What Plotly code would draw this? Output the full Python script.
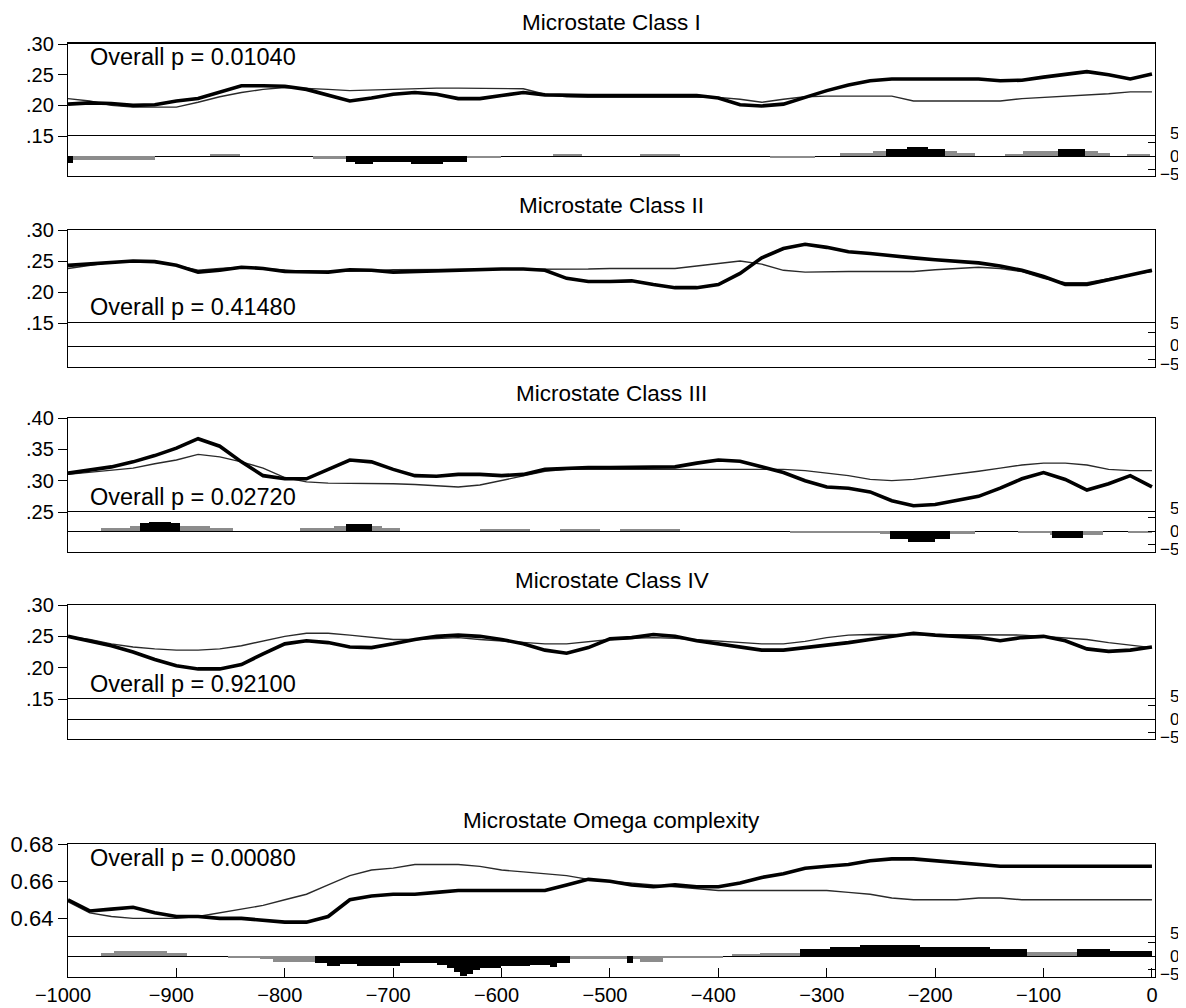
import plotly.graph_objects as go

# page is 1186x1008; the html body has an 8px margin, so the figure is 8px smaller
# and all geometry below is given in page pixels, shifted by OFF.
OFF = 8
W, H = 1186 - OFF, 1008 - OFF
FONT = "Liberation Sans, Arial, sans-serif"

# ---------------- data ----------------
t = list(range(-1000, 1, 20))

c1_thick = [.202, .204, .203, .200, .201, .207, .211, .222, .232, .232,
            .231, .226, .217, .207, .212, .218, .221, .218, .211, .211,
            .216, .221, .217, .216, .216, .216, .216, .216, .216, .216,
            .212, .201, .199, .202, .213, .224, .233, .240, .243, .243,
            .243, .243, .243, .240, .241, .246, .251, .255, .250, .243,
            .251]
c1_thin = [.211, .207, .200, .197, .197, .197, .205, .214, .221, .226,
           .229, .228, .226, .224, .225, .227, .228, .228, .228, .228,
           .228, .227, .218, .214, .213, .213, .213, .213, .213, .213,
           .213, .210, .205, .210, .214, .215, .215, .215, .215, .207,
           .207, .207, .207, .207, .211, .213, .215, .216, .219, .222,
           .222]
c2_thick = [.243, .245, .248, .250, .249, .243, .232, .235, .240, .238,
            .233, .232, .232, .236, .235, .232, .233, .235, .236, .237,
            .237, .237, .235, .222, .217, .217, .218, .212, .207, .207,
            .212, .230, .255, .270, .277, .272, .265, .262, .258, .255,
            .252, .250, .247, .242, .235, .225, .212, .212, .220, .228,
            .235]
c2_thin = [.238, .243, .248, .250, .248, .243, .235, .238, .240, .238,
           .235, .233, .233, .233, .234, .236, .236, .236, .236, .236,
           .236, .236, .236, .237, .237, .238, .238, .237, .238, .242,
           .246, .250, .245, .235, .232, .233, .233, .233, .233, .233,
           .236, .238, .240, .238, .233, .222, .215, .215, .222, .228,
           .233]
c3_thick = [.312, .317, .322, .330, .340, .352, .367, .355, .330, .308,
            .303, .303, .318, .333, .330, .318, .308, .307, .310, .310,
            .308, .310, .318, .320, .321, .321, .321, .321, .322, .328,
            .333, .331, .322, .313, .300, .290, .288, .282, .268, .260,
            .262, .268, .275, .288, .303, .313, .302, .285, .295, .308,
            .290]
c3_thin = [.310, .313, .317, .320, .327, .333, .342, .338, .330, .320,
           .305, .298, .296, .296, .295, .295, .294, .292, .290, .293,
           .300, .308, .315, .318, .318, .318, .318, .318, .318, .318,
           .318, .318, .318, .318, .316, .312, .308, .302, .300, .302,
           .306, .310, .315, .320, .325, .328, .328, .325, .318, .316,
           .316]
c4_thick = [.250, .243, .235, .225, .213, .203, .198, .198, .205, .222,
            .238, .243, .240, .233, .232, .238, .245, .250, .252, .250,
            .245, .238, .228, .223, .232, .246, .248, .253, .250, .243,
            .238, .232, .228, .228, .232, .235, .240, .245, .250, .255,
            .252, .250, .248, .243, .248, .250, .243, .230, .226, .228,
            .233]
c4_thin = [.250, .245, .238, .233, .230, .228, .228, .230, .235, .243,
           .250, .255, .255, .252, .248, .245, .245, .247, .248, .245,
           .243, .240, .238, .238, .242, .245, .247, .248, .247, .245,
           .243, .240, .238, .238, .242, .248, .252, .253, .253, .253,
           .253, .253, .253, .253, .252, .250, .248, .245, .240, .236,
           .232]
om_thick = [.650, .644, .645, .646, .643, .641, .641, .640, .640, .639,
            .638, .638, .641, .650, .652, .653, .653, .654, .655, .655,
            .655, .655, .655, .658, .661, .660, .658, .657, .658, .657,
            .657, .659, .662, .664, .667, .668, .669, .671, .672, .672,
            .671, .670, .669, .668, .668, .668, .668, .668, .668, .668,
            .668]
om_thin = [.649, .643, .641, .640, .640, .640, .641, .643, .645, .647,
           .650, .653, .658, .663, .666, .667, .669, .669, .669, .668,
           .666, .665, .664, .663, .661, .660, .659, .658, .657, .656,
           .655, .655, .655, .655, .655, .655, .654, .653, .651, .650,
           .650, .650, .651, .651, .650, .650, .650, .650, .650, .650,
           .650]

# significance bars (t-values): segment start, end (ms), value
c1_gray_start = [-1000, -869, -774, -632, -553, -472, -352, -288, -257, -136, -119, -50, -23]
c1_gray_end = [-920, -841, -632, -601, -526, -435, -311, -163, -180, -119, -50, -39, -2]
c1_gray_val = [-1.3, 0.9, -1.0, -0.8, 0.8, 0.5, -0.6, 1.2, 2.0, 0.8, 2.0, 1.0, 0.8]
c1_black_start = [-1000, -744, -735, -684, -245, -226, -87]
c1_black_end = [-995, -632, -719, -654, -191, -207, -62]
c1_black_val = [-2.5, -2.3, -3.0, -3.0, 2.5, 3.5, 2.5]

c3_gray_start = [-970, -943, -786, -755, -620, -546, -491, -334, -251, -124, -94, -22]
c3_gray_end = [-848, -869, -694, -710, -574, -509, -435, -251, -163, -94, -45, 0]
c3_gray_val = [1.2, 2.0, 1.0, 1.8, 0.6, 0.6, 0.9, -0.6, -1.2, -0.8, -1.3, -0.8]
c3_black_start = [-934, -925, -744, -242, -225, -92]
c3_black_end = [-897, -905, -720, -186, -200, -64]
c3_black_val = [3.0, 3.5, 2.5, -3.0, -4.0, -2.5]

om_gray_start = [-970, -958, -852, -823, -811, -537, -509, -472, -451, -387, -362, -115]
om_gray_end = [-890, -909, -823, -811, -772, -509, -451, -451, -396, -362, -325, -69]
om_gray_val = [1.0, 1.8, -0.7, -1.0, -2.2, -1.1, -1.0, -2.2, -0.8, 0.5, 1.1, 1.5]
om_black_start = [-772, -761, -749, -733, -694, -660, -650, -644, -638, -632, -626, -620,
                  -610, -601, -574, -555, -549, -484, -325, -297, -269, -214, -149, -69, -39]
om_black_end = [-761, -749, -733, -694, -660, -650, -644, -638, -632, -626, -620, -610,
                -601, -574, -555, -549, -537, -479, -297, -269, -214, -149, -115, -39, 0]
om_black_val = [-2.5, -3.7, -2.8, -3.7, -2.6, -3.5, -4.5, -6.0, -7.3, -6.5, -5.0, -4.3,
                -4.5, -3.7, -3.3, -4.0, -2.6, -2.5, 2.5, 3.5, 4.0, 3.5, 2.5, 2.5, 1.7]

titles = ["Microstate Class I", "Microstate Class II", "Microstate Class III",
          "Microstate Class IV", "Microstate Omega complexity"]
p_texts = ["Overall p = 0.01040", "Overall p = 0.41480", "Overall p = 0.02720",
           "Overall p = 0.92100", "Overall p = 0.00080"]
x_ticks = list(range(-1000, 1, 100))
# digits centred on the tick, minus sign hanging left (as in the original)
x_ticktext = [("\u2212" + str(-v) + "\u2002") if v < 0 else str(v) for v in x_ticks]
t_ticks = [5, 0, -5]
t_ticktext = ["5", "0", "\u22125"]

# ---------------- layout config (page-pixel geometry) ----------------
panels = [
    dict(top=44, sep=136, bot=176, zero=156, rng=[.15, .30], lfs=20,
         tv=[.15, .20, .25, .30], tt=[".15", ".20", ".25", ".30"], ptop=57, title_y=22,
         thick=c1_thick, thin=c1_thin,
         gray=(c1_gray_start, c1_gray_end, c1_gray_val),
         black=(c1_black_start, c1_black_end, c1_black_val)),
    dict(top=230, sep=323, bot=367, zero=346, rng=[.15, .30], lfs=20,
         tv=[.15, .20, .25, .30], tt=[".15", ".20", ".25", ".30"], ptop=307, title_y=206,
         thick=c2_thick, thin=c2_thin, gray=None, black=None),
    dict(top=418, sep=512, bot=552, zero=531, rng=[.25, .40], lfs=20,
         tv=[.25, .30, .35, .40], tt=[".25", ".30", ".35", ".40"], ptop=497, title_y=393,
         thick=c3_thick, thin=c3_thin,
         gray=(c3_gray_start, c3_gray_end, c3_gray_val),
         black=(c3_black_start, c3_black_end, c3_black_val)),
    dict(top=605, sep=699, bot=739, zero=719, rng=[.15, .30], lfs=20,
         tv=[.15, .20, .25, .30], tt=[".15", ".20", ".25", ".30"], ptop=684, title_y=580,
         thick=c4_thick, thin=c4_thin, gray=None, black=None),
    dict(top=844, sep=937, bot=977, zero=956, rng=[.63, .68], lfs=22,
         tv=[.64, .66, .68], tt=["0.64", "0.66", "0.68"], ptop=858, title_y=820,
         thick=om_thick, thin=om_thin,
         gray=(om_gray_start, om_gray_end, om_gray_val),
         black=(om_black_start, om_black_end, om_black_val)),
]


def px(x):
    return (x - OFF) / W


def py(y):
    return 1 - (y - OFF) / H


XL, XR = 68, 1155
xdom = [px(XL), px(XR)]
XRANGE = [-1000, 2.8]
K = 2.7  # px per t-unit on right axis
T_SHIFT = [9, 0, -5]  # label offsets of the 5 / 0 / -5 labels

fig = go.Figure()
annotations = []
layout_axes = {}


def ax(name, n):
    return name if n == 1 else f"{name}{n}"


def bars(start, end, val):
    xs = [(a + b) / 2 for a, b in zip(start, end)]
    ws = [b - a for a, b in zip(start, end)]
    return xs, ws, val


for i, p in enumerate(panels):
    na, nb = 2 * i + 1, 2 * i + 2
    xa, ya = ax("x", na), ax("y", na)
    xb, yb = ax("x", nb), ax("y", nb)

    fig.add_trace(go.Scatter(x=t, y=p["thin"], mode="lines", xaxis=xa, yaxis=ya,
                             line=dict(color="#2a2a2a", width=1.4), showlegend=False,
                             hoverinfo="skip"))
    fig.add_trace(go.Scatter(x=t, y=p["thick"], mode="lines", xaxis=xa, yaxis=ya,
                             line=dict(color="black", width=3.6), showlegend=False,
                             hoverinfo="skip"))
    if p["gray"]:
        xs, ws, vs = bars(*p["gray"])
        fig.add_trace(go.Bar(x=xs, y=vs, width=ws, base=0, xaxis=xb, yaxis=yb,
                             marker=dict(color="#8c8c8c", line=dict(width=0)),
                             showlegend=False, hoverinfo="skip"))
        xs, ws, vs = bars(*p["black"])
        fig.add_trace(go.Bar(x=xs, y=vs, width=ws, base=0, xaxis=xb, yaxis=yb,
                             marker=dict(color="black", line=dict(width=0)),
                             showlegend=False, hoverinfo="skip"))
    else:
        fig.add_trace(go.Scatter(x=[XRANGE[0], XRANGE[1]], y=[0, 0], mode="lines",
                                 xaxis=xb, yaxis=yb, line=dict(color="rgba(0,0,0,0)"),
                                 showlegend=False, hoverinfo="skip"))

    top_dom = [py(p["sep"]), py(p["top"])]
    bot_dom = [py(p["bot"]), py(p["sep"])]
    bot_rng = [-(p["bot"] - p["zero"]) / K, (p["zero"] - p["sep"]) / K]

    # top x axis: only the frame line along the top of the panel
    layout_axes[ax("xaxis", na)] = dict(
        domain=xdom, anchor=ya, side="top", range=XRANGE, showline=True, mirror=False,
        linecolor="black", linewidth=2.3 if i == 0 else 1.3, ticks="", showticklabels=False,
        showgrid=False, zeroline=False, fixedrange=True, automargin=False)
    layout_axes[ax("yaxis", na)] = dict(
        domain=top_dom, anchor=xa, range=p["rng"], showline=True, mirror=True,
        linecolor="black", linewidth=1.3, ticks="outside", ticklen=9, tickwidth=1.3,
        tickcolor="black", tickvals=p["tv"], ticktext=p["tt"],
        tickfont=dict(size=p["lfs"], color="black", family=FONT),
        showgrid=False, zeroline=False, fixedrange=True, automargin=False)
    last = (i == len(panels) - 1)
    # bottom x axis: bottom frame line + mirrored separator line
    layout_axes[ax("xaxis", nb)] = dict(
        domain=xdom, anchor=yb, range=XRANGE, showline=True, mirror=True,
        linecolor="black", linewidth=1.3,
        ticks="inside" if last else "", ticklen=9, tickwidth=1.3, tickcolor="black",
        tickvals=x_ticks if last else None, ticktext=x_ticktext if last else None,
        showticklabels=last, tickfont=dict(size=20, color="black", family=FONT),
        showgrid=False, zeroline=False, fixedrange=True, automargin=False)
    layout_axes[ax("yaxis", nb)] = dict(
        domain=bot_dom, anchor=xb, side="right", range=bot_rng, showline=True,
        mirror=True, linecolor="black", linewidth=1.3, ticks="inside", ticklen=7,
        tickwidth=1.3, tickcolor="black", tickvals=t_ticks, showticklabels=False,
        showgrid=False, zeroline=True, zerolinecolor="black", zerolinewidth=1.2,
        fixedrange=True, automargin=False)

    for tv, tt, sh in zip(t_ticks, t_ticktext, T_SHIFT):
        annotations.append(dict(text=tt, x=px(1181), y=tv, xref="paper", yref=yb,
                                xanchor="right", yanchor="middle", yshift=sh,
                                showarrow=False,
                                font=dict(size=17, color="black", family=FONT)))

    annotations.append(dict(text=titles[i], x=px((XL + XR) / 2), y=py(p["title_y"]),
                            xref="paper", yref="paper", xanchor="center", yanchor="middle",
                            showarrow=False, borderpad=0,
                            font=dict(size=22.5, color="black", family=FONT)))
    annotations.append(dict(text=p_texts[i], x=px(88), y=py(p["ptop"]),
                            xref="paper", yref="paper", xanchor="left", yanchor="middle",
                            showarrow=False, font=dict(size=23.5, color="black", family=FONT)))

fig.update_layout(
    width=W, height=H, margin=dict(l=0, r=0, t=0, b=0, autoexpand=False),
    paper_bgcolor="white", plot_bgcolor="white",
    barmode="overlay", bargap=0, showlegend=False,
    font=dict(family=FONT, color="black"),
    annotations=annotations, **layout_axes)

fig.write_html("out.html")
